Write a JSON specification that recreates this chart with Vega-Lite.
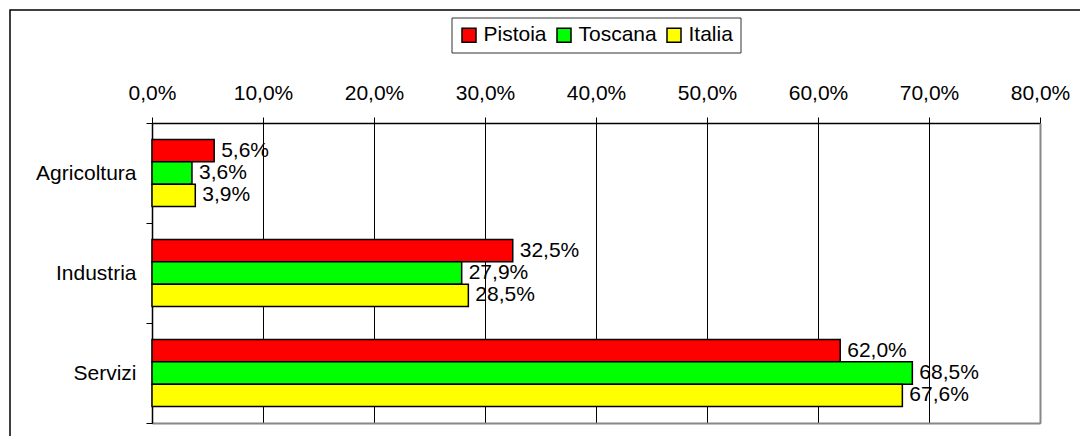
{
  "$schema": "https://vega.github.io/schema/vega-lite/v6.json",
  "width": 1075,
  "height": 431,
  "autosize": {"type": "none"},
  "padding": {"left": 10, "top": 10, "right": -5, "bottom": -5},
  "background": "white",
  "data": {
    "values": [
      {"settore": "Agricoltura", "area": "Pistoia", "valore": 0.056},
      {"settore": "Agricoltura", "area": "Toscana", "valore": 0.036},
      {"settore": "Agricoltura", "area": "Italia", "valore": 0.039},
      {"settore": "Industria", "area": "Pistoia", "valore": 0.325},
      {"settore": "Industria", "area": "Toscana", "valore": 0.279},
      {"settore": "Industria", "area": "Italia", "valore": 0.285},
      {"settore": "Servizi", "area": "Pistoia", "valore": 0.620},
      {"settore": "Servizi", "area": "Toscana", "valore": 0.685},
      {"settore": "Servizi", "area": "Italia", "valore": 0.676}
    ]
  },
  "encoding": {
    "y": {
      "field": "settore",
      "type": "nominal",
      "sort": ["Agricoltura", "Industria", "Servizi"],
      "scale": {"range": [113, 413], "paddingInner": 0, "paddingOuter": 0}
    },
    "yOffset": {
      "field": "area",
      "type": "nominal",
      "sort": ["Pistoia", "Toscana", "Italia"],
      "scale": {"paddingInner": 0, "paddingOuter": 0.739}
    },
    "x": {
      "field": "valore",
      "type": "quantitative",
      "scale": {"domain": [0, 0.8], "nice": false, "range": [142, 1030]}
    }
  },
  "layer": [
    {
      "mark": {"type": "bar", "stroke": "black", "strokeWidth": 1.5},
      "encoding": {
        "y": {
          "field": "settore",
          "type": "nominal",
          "sort": ["Agricoltura", "Industria", "Servizi"],
          "axis": {
            "orient": "left",
            "offset": -142,
            "title": null,
            "tickBand": "extent",
            "labelFontSize": 21,
            "labelColor": "black",
            "labelPadding": 10,
            "tickSize": 6,
            "tickColor": "black",
            "domainColor": "black",
            "domainWidth": 1.5,
            "grid": false
          }
        },
        "x": {
          "field": "valore",
          "type": "quantitative",
          "axis": {
            "orient": "top",
            "offset": -113,
            "title": null,
            "format": ".1%",
            "values": [0, 0.1, 0.2, 0.3, 0.4, 0.5, 0.6, 0.7, 0.8],
            "labelFontSize": 21,
            "labelColor": "black",
            "labelPadding": 14,
            "labelFlush": false,
            "labelOverlap": false,
            "tickSize": 6,
            "tickColor": "black",
            "domainColor": "black",
            "domainWidth": 1.5,
            "grid": true,
            "gridColor": "black",
            "gridWidth": 1,
            "gridOpacity": 1
          }
        },
        "color": {
          "field": "area",
          "type": "nominal",
          "scale": {
            "domain": ["Pistoia", "Toscana", "Italia"],
            "range": ["#ff0000", "#00ff00", "#ffff00"]
          },
          "legend": {
            "title": null,
            "orient": "none",
            "legendX": 441.5,
            "legendY": 7.5,
            "direction": "horizontal",
            "symbolType": "square",
            "symbolSize": 196,
            "symbolStrokeColor": "black",
            "symbolStrokeWidth": 1.5,
            "symbolOpacity": 1,
            "labelFontSize": 21,
            "labelColor": "black",
            "labelOffset": 4,
            "columnPadding": 6,
            "padding": 7,
            "strokeColor": "#333333",
            "fillColor": "white"
          }
        }
      }
    },
    {
      "mark": {"type": "text", "align": "left", "baseline": "middle", "dx": 7, "fontSize": 21, "color": "black"},
      "encoding": {
        "text": {"field": "valore", "type": "quantitative", "format": ".1%"},
        "y": {
          "field": "settore",
          "type": "nominal",
          "sort": ["Agricoltura", "Industria", "Servizi"],
          "axis": {
            "orient": "right",
            "offset": -45,
            "title": null,
            "labels": false,
            "ticks": false,
            "grid": false,
            "domainColor": "#888888",
            "domainWidth": 2
          }
        },
        "x": {
          "field": "valore",
          "type": "quantitative",
          "axis": {
            "orient": "bottom",
            "offset": -18,
            "title": null,
            "labels": false,
            "ticks": false,
            "grid": false,
            "domainColor": "#888888",
            "domainWidth": 2
          }
        }
      }
    }
  ],
  "resolve": {"axis": {"x": "independent", "y": "independent"}},
  "config": {
    "font": "Liberation Sans",
    "locale": {
      "number": {"decimal": ",", "thousands": ".", "grouping": [3], "currency": ["", " €"]}
    },
    "view": {"stroke": "black", "strokeWidth": 1.5},
    "axis": {"labelFont": "Liberation Sans"},
    "legend": {"labelFont": "Liberation Sans"}
  }
}
